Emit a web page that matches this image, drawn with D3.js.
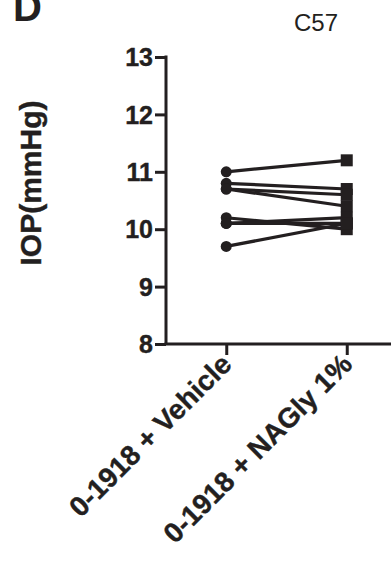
<!DOCTYPE html>
<html><head><meta charset="utf-8">
<script src="https://cdn.jsdelivr.net/npm/d3@7"></script>
<style>body{margin:0;background:#fff}svg{display:block}text{font-family:Arial,"Liberation Sans",sans-serif;fill:#231f20}</style>
</head><body>
<script>
const groups = ["0-1918 + Vehicle", "0-1918 + NAGly 1%"];
const vehicle = [11.0, 10.8, 10.7, 10.7, 10.2, 10.1, 10.1, 9.7];
const nagly   = [11.2, 10.7, 10.6, 10.4, 10.0, 10.2, 10.1, 10.1];
const yTicks = [8, 9, 10, 11, 12, 13];
const panelLabel = "D";
const title = "C57";
const yLabel = "IOP(mmHg)";

const W = 391, H = 565, ink = "#231f20";
const svg = d3.select("body").append("svg").attr("width", W).attr("height", H);
const y = d3.scaleLinear().domain([8, 13]).range([344, 57]);
const x = d3.scalePoint().domain(groups).range([166, 407]).padding(0.5);

svg.append("text").attr("x", 13).attr("y", 21).attr("font-size", 40).attr("font-weight", "bold").text(panelLabel);
svg.append("text").attr("x", 316).attr("y", 31).attr("font-size", 24).attr("text-anchor", "middle").text(title);
svg.append("text").attr("transform", "translate(41,183) rotate(-90)").attr("text-anchor", "middle")
  .attr("font-size", 30).attr("font-weight", "bold").attr("stroke", ink).attr("stroke-width", 0.4).text(yLabel);

// y axis
const ya = svg.append("g").attr("transform", "translate(166,0)")
  .call(d3.axisLeft(y).tickValues(yTicks).tickSize(11).tickPadding(2).tickFormat(d3.format("d")));
ya.select(".domain").attr("stroke", ink).attr("stroke-width", 3).attr("d", `M0,${y(13)-1.5}V${y(8)}`);
ya.selectAll(".tick line").attr("stroke", ink).attr("stroke-width", 3);
ya.selectAll(".tick text").attr("font-size", 25).attr("font-weight", "bold").attr("fill", ink)
  .attr("stroke", ink).attr("stroke-width", 0.4)
  .attr("font-family", "Arial, 'Liberation Sans', sans-serif").attr("dy", "0.35em");

// x axis
const xa = svg.append("g").attr("transform", `translate(0,${y(8)})`)
  .call(d3.axisBottom(x).tickSize(11).tickFormat(""));
xa.select(".domain").attr("stroke", ink).attr("stroke-width", 3).attr("d", `M${166-1.5},0H${W+5}`);
xa.selectAll(".tick line").attr("stroke", ink).attr("stroke-width", 3);
groups.forEach(g => {
  svg.append("text").attr("transform", `translate(${x(g)+7},${y(8)+22}) rotate(-45)`)
    .attr("text-anchor", "end").attr("font-size", 28).attr("font-weight", "bold")
    .attr("stroke", ink).attr("stroke-width", 0.4).text(g);
});

// paired lines
const pairs = vehicle.map((v, i) => [v, nagly[i]]);
svg.append("g").selectAll("line").data(pairs).join("line")
  .attr("x1", x(groups[0])).attr("x2", x(groups[1]))
  .attr("y1", d => y(d[0])).attr("y2", d => y(d[1]))
  .attr("stroke", ink).attr("stroke-width", 3.2);
svg.append("g").selectAll("circle").data(vehicle).join("circle")
  .attr("cx", x(groups[0])).attr("cy", d => y(d)).attr("r", 5.5).attr("fill", ink);
svg.append("g").selectAll("rect").data(nagly).join("rect")
  .attr("x", x(groups[1]) - 6).attr("y", d => y(d) - 6).attr("width", 12).attr("height", 12).attr("fill", ink);
</script>
</body></html>
